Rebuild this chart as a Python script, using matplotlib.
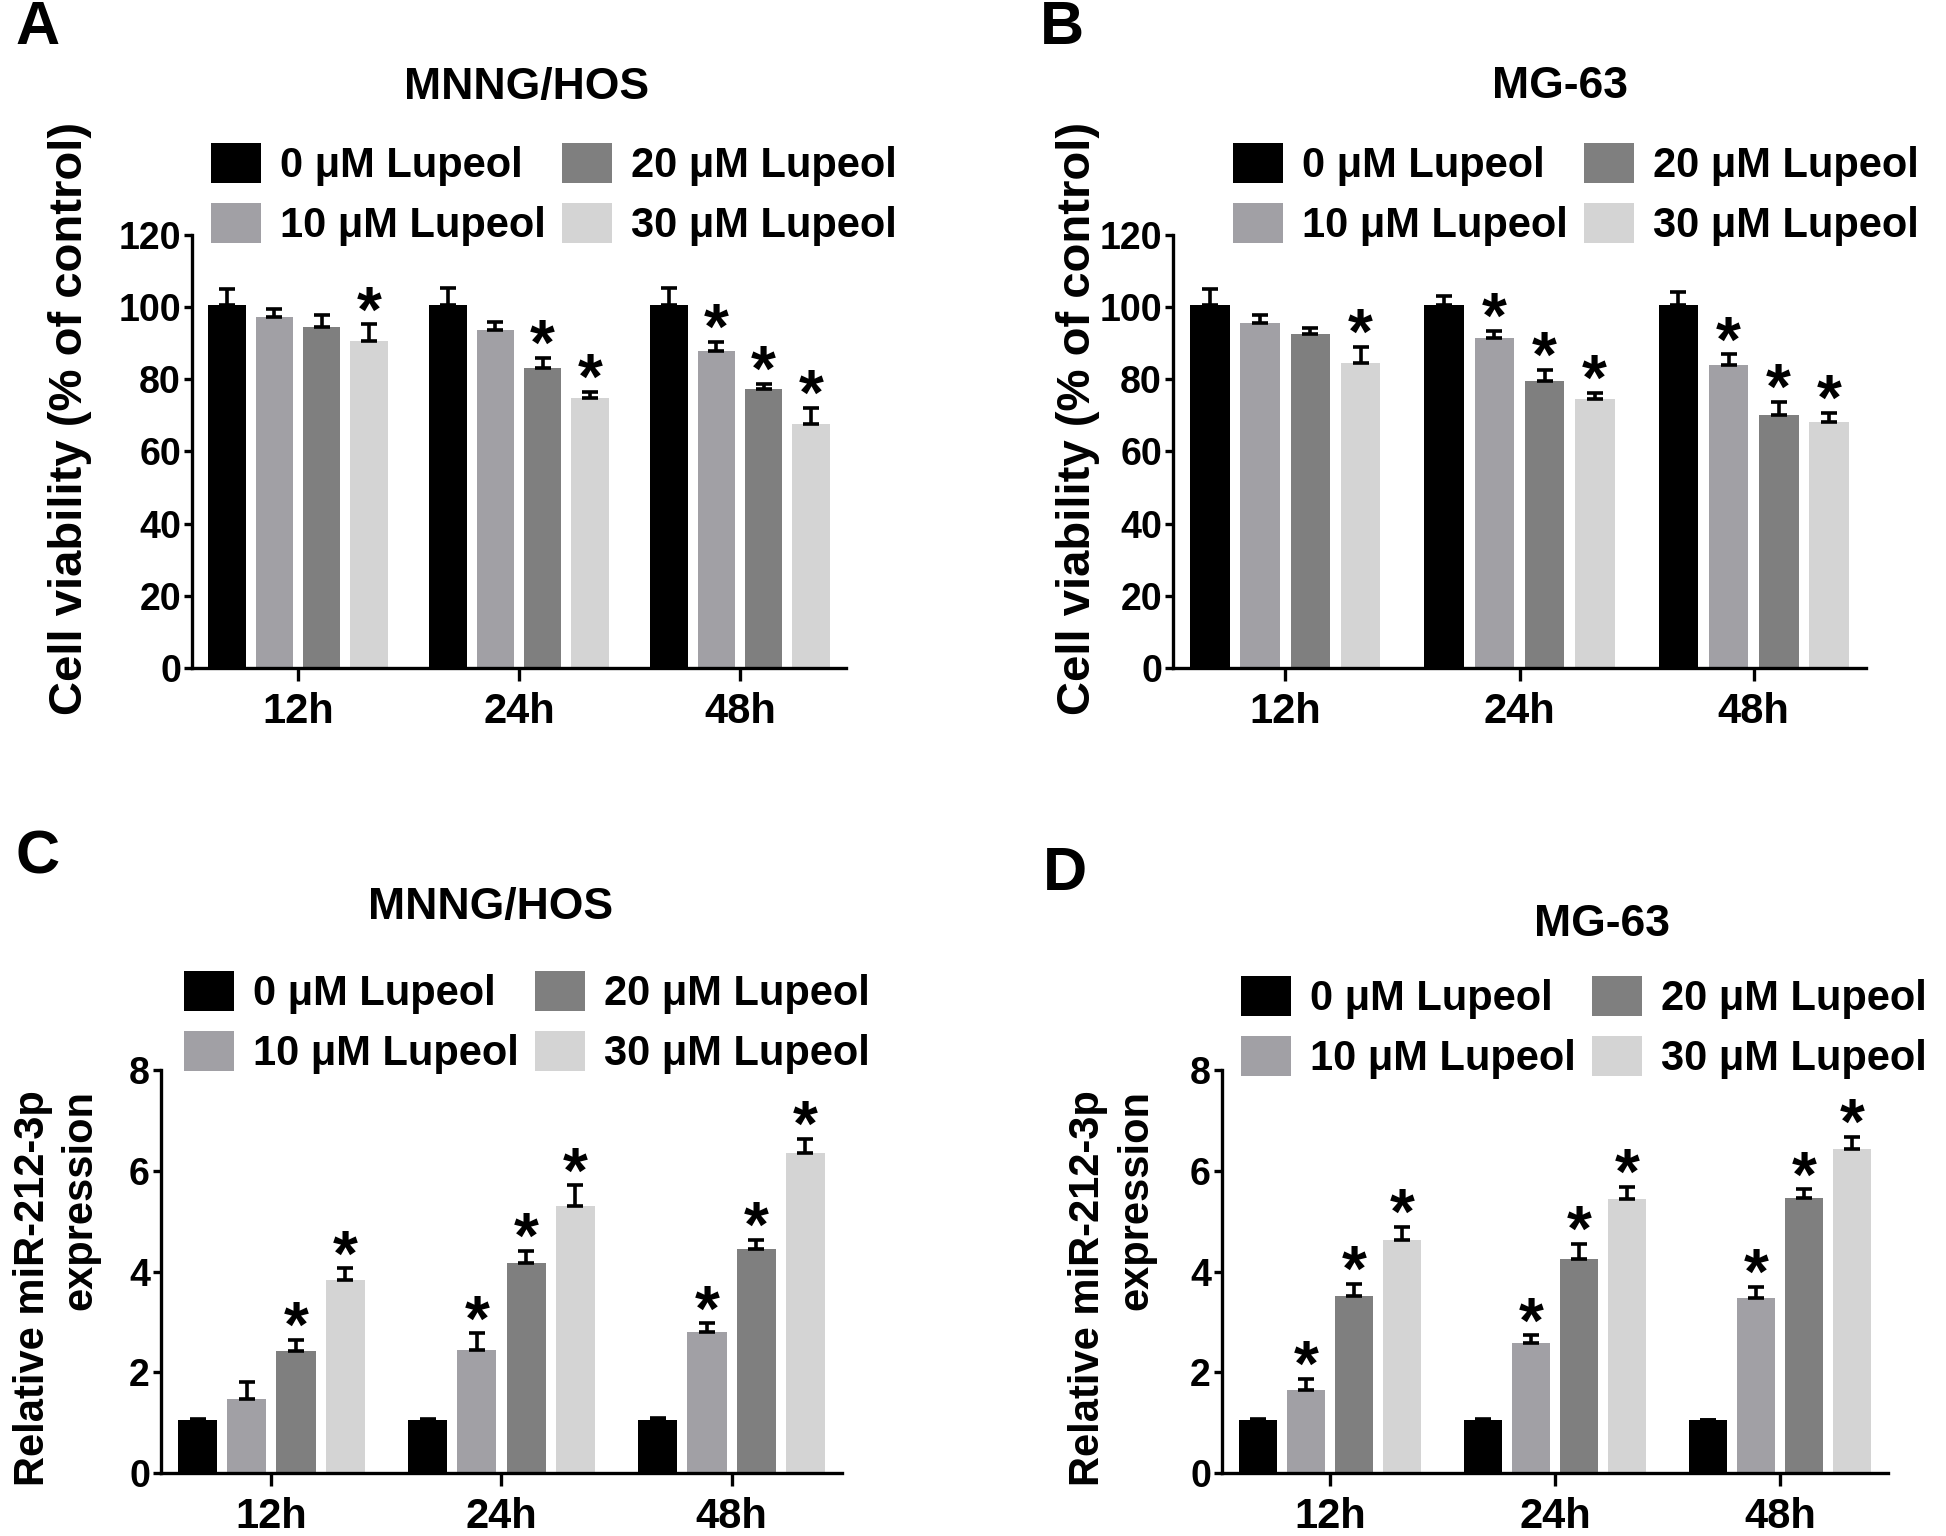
import numpy as np
import matplotlib.pyplot as plt
from matplotlib.patches import Patch

plt.rcParams['font.family'] = ['Liberation Sans', 'DejaVu Sans']
plt.rcParams['font.weight'] = 'bold'

times = ['12h', '24h', '48h']
doses = ['0 μM Lupeol', '10 μM Lupeol', '20 μM Lupeol', '30 μM Lupeol']
colors = ['#000000', '#a1a0a5', '#7f7f7f', '#d4d4d4']

# A - MNNG/HOS cell viability
a_mean = [[100.5, 100.5, 100.5], [97.2, 93.7, 87.8], [94.5, 83.2, 77.2], [90.5, 74.8, 67.7]]
a_err = [[4.5, 4.8, 4.9], [2.2, 2.3, 2.6], [3.4, 2.7, 1.5], [4.7, 1.8, 4.3]]
a_star = [[0, 0, 0], [0, 0, 1], [0, 1, 1], [1, 1, 1]]

# B - MG-63 cell viability
b_mean = [[100.5, 100.5, 100.5], [95.7, 91.5, 83.9], [92.5, 79.4, 70.1], [84.4, 74.5, 68.3]]
b_err = [[4.4, 2.6, 3.7], [2.0, 1.8, 3.0], [1.7, 3.2, 3.7], [4.5, 1.7, 2.5]]
b_star = [[0, 0, 0], [0, 1, 1], [0, 1, 1], [1, 1, 1]]

# C - MNNG/HOS miR-212-3p
c_mean = [[1.05, 1.05, 1.05], [1.47, 2.44, 2.79], [2.42, 4.16, 4.45], [3.84, 5.31, 6.36]]
c_err = [[0.02, 0.02, 0.05], [0.34, 0.33, 0.18], [0.23, 0.24, 0.18], [0.22, 0.40, 0.28]]
c_star = [[0, 0, 0], [0, 1, 1], [1, 1, 1], [1, 1, 1]]

# D - MG-63 miR-212-3p
d_mean = [[1.05, 1.05, 1.05], [1.65, 2.59, 3.48], [3.52, 4.25, 5.45], [4.62, 5.44, 6.44]]
d_err = [[0.02, 0.02, 0.01], [0.22, 0.14, 0.21], [0.24, 0.29, 0.18], [0.26, 0.24, 0.23]]
d_star = [[0, 0, 0], [1, 1, 1], [1, 1, 1], [1, 1, 1]]

W, H = 1946, 1536
fig = plt.figure(figsize=(W / 100, H / 100), dpi=100)


def px_axes(left, right, top, bottom):
    return fig.add_axes([left / W, 1 - bottom / H, (right - left) / W, (bottom - top) / H])


def panel(ax, mean, err, star, ymax, ystep):
    x = np.arange(len(times))
    step, width = 0.214, 0.17
    for i in range(4):
        xs = x + (i - 1.5) * step
        ax.bar(xs, mean[i], width, color=colors[i], zorder=2)
        ax.errorbar(xs, mean[i], yerr=[np.zeros(3), err[i]], fmt='none', ecolor='black',
                    elinewidth=2.6, capsize=5.5, capthick=2.6, zorder=3)
        for j in range(3):
            if star[i][j]:
                ax.annotate('*', (xs[j], mean[i][j] + err[i][j]), xytext=(0, -5),
                            textcoords='offset points', ha='center', va='baseline',
                            fontsize=46, fontweight='bold')
    ax.set_xlim(-0.48, 2.48)
    ax.set_ylim(0, ymax)
    ax.set_yticks(np.arange(0, ymax + 0.01, ystep))
    ax.set_xticks(x)
    ax.set_xticklabels(times)
    for s in ['top', 'right']:
        ax.spines[s].set_visible(False)
    for s in ['left', 'bottom']:
        ax.spines[s].set_linewidth(2.4)
    ax.tick_params(axis='y', direction='out', length=6, width=2.4, labelsize=27, pad=2)
    ax.tick_params(axis='x', direction='out', length=9, width=2.4, labelsize=30, pad=8)
    for lab in ax.get_xticklabels() + ax.get_yticklabels():
        lab.set_fontweight('bold')


handles = [Patch(facecolor=c, label=d) for c, d in zip(colors, doses)]


def legend(x, y):
    fig.legend(handles=handles, ncol=2, loc='upper left', bbox_to_anchor=(x / W, 1 - y / H),
               frameon=False, handlelength=1.2, handleheight=1.1,
               handletextpad=0.45, columnspacing=0.4, labelspacing=0.4, borderpad=0,
               prop={'weight': 'bold', 'size': 30})


axA = px_axes(192, 846, 235, 668)
panel(axA, a_mean, a_err, a_star, 120, 20)
axB = px_axes(1173, 1866, 235, 668)
panel(axB, b_mean, b_err, b_star, 120, 20)
axC = px_axes(161, 842, 1070, 1473)
panel(axC, c_mean, c_err, c_star, 8, 2)
axD = px_axes(1222, 1888, 1070, 1473)
panel(axD, d_mean, d_err, d_star, 8, 2)

legend(190, 122)
legend(1212, 122)
legend(163, 950)
legend(1220, 955)

# titles and panel letters
fig.text(527 / W, 1 - 87 / H, 'MNNG/HOS', ha='center', va='center', fontsize=32, fontweight='bold')
fig.text(1560 / W, 1 - 87 / H, 'MG-63', ha='center', va='center', fontsize=32, fontweight='bold')
fig.text(491 / W, 1 - 908 / H, 'MNNG/HOS', ha='center', va='center', fontsize=32, fontweight='bold')
fig.text(1602 / W, 1 - 925 / H, 'MG-63', ha='center', va='center', fontsize=32, fontweight='bold')
for lx, ly, letter in [(15, 29, 'A'), (1040, 29, 'B'), (15, 858, 'C'), (1043, 875, 'D')]:
    fig.text(lx / W, 1 - ly / H, letter, ha='left', va='center', fontsize=44, fontweight='bold')

# y labels
fig.text(70 / W, 1 - 418 / H, 'Cell viability (% of control)', rotation=90, ha='center',
         va='center', fontsize=34, fontweight='bold')
fig.text(1078 / W, 1 - 418 / H, 'Cell viability (% of control)', rotation=90, ha='center',
         va='center', fontsize=34, fontweight='bold')
fig.text(57 / W, 1 - 1288 / H, 'Relative miR-212-3p\nexpression', rotation=90, ha='center',
         va='center', multialignment='right', fontsize=30, fontweight='bold', linespacing=1.25)
fig.text(1112 / W, 1 - 1288 / H, 'Relative miR-212-3p\nexpression', rotation=90, ha='center',
         va='center', multialignment='right', fontsize=30, fontweight='bold', linespacing=1.25)

fig.savefig('out.png', dpi=100)
